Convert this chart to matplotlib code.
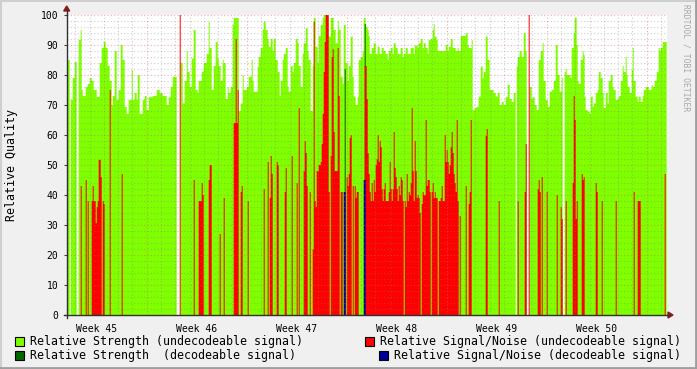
import numpy as np
import matplotlib
matplotlib.use("Agg")
import matplotlib.pyplot as plt
from matplotlib.patches import Rectangle, Polygon
from matplotlib.lines import Line2D

# --- DATA (one sample = 1.68 h, 600 samples = 6 weeks) ---
SAMPLE_HOURS = 1.68
N_SAMPLES = 600
FIRST_WEEK_HOUR = 134.4      # start of week 46 inside the graph
week_labels = ["Week 45", "Week 46", "Week 47", "Week 48", "Week 49", "Week 50"]

nan = float("nan")

# Relative strength (undecodeable), run starts (sample) and values, nan = no data
strength_start = [0, 3, 4, 6, 8, 10, 12, 14, 15, 16, 19, 21, 23, 25, 27, 30, 33, 35, 37, 39, 41, 43, 45, 46, 48,
                  50, 52, 54, 56, 58, 60, 62, 65, 66, 68, 70, 71, 73, 76, 78, 80, 82, 86, 90, 93, 96, 100, 102,
                  104, 106, 110, 114, 116, 118, 120, 121, 123, 125, 127, 129, 131, 132, 135, 137, 140, 142, 143,
                  145, 147, 149, 151, 152, 154, 156, 157, 159, 161, 162, 164, 166, 167, 172, 174, 176, 177, 180,
                  182, 185, 186, 187, 191, 192, 194, 196, 197, 199, 201, 202, 204, 206, 207, 209, 211, 213, 214,
                  216, 217, 219, 221, 222, 224, 226, 227, 229, 231, 232, 234, 236, 237, 239, 241, 242, 244, 246,
                  247, 249, 251, 252, 254, 256, 257, 262, 264, 267, 269, 271, 272, 274, 276, 277, 279, 281, 282,
                  284, 286, 287, 289, 291, 292, 294, 296, 297, 299, 301, 302, 303, 305, 307, 309, 311, 313, 315,
                  317, 319, 321, 322, 324, 326, 327, 329, 331, 334, 336, 337, 339, 341, 344, 347, 348, 351, 352,
                  354, 356, 357, 359, 361, 362, 364, 366, 367, 368, 370, 371, 374, 379, 381, 382, 384, 386, 389,
                  391, 392, 394, 397, 399, 401, 402, 405, 406, 408, 410, 412, 414, 416, 417, 419, 421, 423, 427,
                  429, 431, 433, 435, 437, 439, 441, 443, 445, 447, 449, 450, 451, 453, 455, 457, 459, 460, 463,
                  465, 466, 468, 470, 472, 474, 476, 477, 479, 481, 483, 485, 487, 489, 491, 493, 495, 496, 498,
                  499, 500, 504, 505, 507, 508, 510, 511, 512, 514, 516, 517, 518, 519, 521, 523, 524, 526, 527,
                  529, 531, 532, 534, 536, 537, 539, 541, 542, 544, 546, 547, 549, 551, 552, 554, 556, 557, 559,
                  560, 561, 563, 565, 566, 567, 569, 571, 572, 574, 576, 577, 579, 582, 585, 586, 588, 590, 592,
                  593, 594, 596]
strength_value = [85, nan, 71.7, 79, 84.3, nan, 91.7, 95, 75, 73, 76, 77, 79, 78, 75, 72.7, 84, 89, 91, 89, 83, 78,
                  70, 73, 88, 71.7, 75, 90, 85, 69.4, 67, 71.7, 81.7, 71.7, 74, 71.7, 80, 67, 71.7, 73, 68.3,
                  72.6, 73, 75, 74, 73, 70, 72.6, 76, 79.4, nan, 84, 70.5, 78, 88, 81, 76, 85.5, 95, 75, 74, 78,
                  81, 84, 87, 97.8, 89, 75, 83, 91, 85.5, 83, 78, 85, 84, 72, 76, 74, 76, 96.7, 99, 68, 70.5, 80,
                  75, 76, 79.4, 85, 78, 74.4, 82.8, 86, 89, 95, 97.8, 95, 92, 89.4, 92, 88, 92, 85, 81, 73, 78,
                  85, 87, 89, 76, 74.4, 83, 81, 84, 92, 90.6, 83, 76, 87, 90.6, 95.6, 88, 85, 68, 82.8, 99, 89.4,
                  84, 93, 96.7, 99, 100, 92.8, 99, 95, 90.6, 98, 95, 79.4, 77, 96.7, 84, 78, 83, 92.8, 79.4, 72.8,
                  70, 72.8, 85, 86, 88, 99, 96, 95, 93, 87, 89, 90.6, 87, 89.4, 87, 89, 88, 87, 85, 88, 89, 87,
                  90.6, 89, 87, 89, 86, 87, 89, 87, 89, 87, 89.8, 89, 90.6, 92, 89, 90.6, 89, 87, 91.7, 92, 95,
                  97, 92.8, 91.7, 88, 88, 90, 88, 89.4, 92, 89, 88, 89, 88, 93, 93, 93.9, 90, 89, 91.7, 68.3, 69,
                  69.4, 72.8, 82.8, 79, 81, 92.8, 85, 75, 74, 72.8, 74, 70, 71, 70, 72.6, 76.7, 72, 71, 74, nan,
                  82.8, 86, 88, 86, 93.9, 88, nan, 76, 72, 72.6, 70, 68.3, 85, 88, 90.6, 78, 71.7, 69.4, 74.4, 75,
                  78, 90, 80, 74.4, 79, nan, 81, 82, 80, 79, 89, 93.9, 99, 90, 78, 77, 85, 88, 86.7, 72.8, 68.3,
                  67.8, 67, 72.8, 69.4, 70.5, 74, 75, 81, 79, 74, 69, 74, 70.5, 78, 80, 76, 75, 71.7, 72, 73, 78,
                  83, 81, 86, 80, 76, 74, 81.7, 89, 78, 72.8, 71, 72.8, 71, 73, 75, 76, 75, 76.7, 76, 78, 81, 89,
                  88, 89, 91]

# Relative signal/noise (undecodeable), sample -> value
snr_sample = [14, 19, 21, 25, 26, 27, 28, 29, 30, 31, 32, 33, 34, 36, 37, 43, 55,
              113, 127, 132, 133, 134, 135, 136, 142, 143, 144, 153, 157, 167, 168, 169, 170, 171, 174, 175, 181,
              197, 201, 203, 204, 205, 210, 211, 218, 219, 225, 230, 232, 237, 238, 239, 240, 243, 246, 247, 248,
              249, 250, 251, 252, 253, 254, 255, 256, 257, 258, 259, 260, 261, 262, 264, 265, 266, 267, 268, 269,
              270, 271, 272, 274, 275, 280, 281, 282, 283, 284, 286, 288, 289, 290, 291,
              298, 299, 300, 301, 302, 303, 304, 305, 306, 307, 308, 309, 310, 311, 312, 313, 314, 315, 316, 317,
              318, 319, 320, 321, 322, 323, 324, 325, 326, 327, 328, 329, 330, 331, 332, 333, 334, 335, 336, 338,
              339, 340, 341, 342, 343, 344, 345, 346, 347, 348, 349, 350, 351, 352, 353, 355, 356, 357, 358, 359,
              360, 361, 362, 363, 365, 366, 367, 368, 369, 370, 372, 373, 374, 375, 376, 377, 378, 379, 380, 381,
              382, 383, 384, 385, 386, 387, 388, 389, 390, 391, 393,
              399, 402, 403, 404, 419, 420, 432, 451, 458, 459, 462, 471, 472, 473, 475, 480, 490, 494, 495,
              499, 506, 507, 508, 509, 510, 515, 516, 517, 529, 530, 535, 549, 567, 571, 572, 573, 598]
snr_value = [43, 45, 38, 38, 43, 38, 38, 30.6, 36, 38, 51.7, 51.7, 46, 38, 37, 75, 47,
             100, 45, 38, 38, 38, 44, 40, 45, 50, 50, 27, 39, 64, 64, 92, 64, 75, 41, 43, 38,
             42, 51, 39, 53, 47, 51, 50, 41, 49, 53, 44, 69, 48, 58, 54, 43, 41, 21.9, 97.8, 38,
             36, 48, 48, 50, 50, 51, 57, 67, 81, 91, 100, 100, 100, 41, 53, 86, 88.6, 61, 48, 48,
             48, 89, 73, 41, 41, 46, 43, 47, 59, 60, 43, 43, 39, 41, 41,
             83, 83, 72, 54, 47, 41, 38, 44, 38, 45, 41, 50, 52, 60, 51, 58, 56, 42, 38, 42,
             44, 38, 38, 38, 41, 51, 42, 38, 42, 61, 49, 46, 42, 38, 43, 40, 46, 45, 38, 38,
             36, 47, 38, 41, 40, 44, 69, 48, 38, 58, 48, 39, 40, 39, 34, 37, 41, 40, 40, 65,
             43, 45, 45, 41, 41, 44, 39, 41, 39, 39, 38, 38, 39, 43, 38, 38, 60, 51, 55, 51,
             47, 50, 56, 61, 54, 47, 44, 41, 65, 38, 33,
             43, 37, 41, 65, 59.7, 62, 38, 38, 41, 57, 100, 42, 45, 41, 46, 41, 40, 36, 32,
             38, 44, 73, 65, 32, 38, 47, 45, 46, 44, 41, 38, 38, 41, 38, 38, 38, 47]

# Decodeable signal
dec_strength_sample = [278, 298]
dec_strength_value = [82, 97]
dec_snr_sample = [277, 278, 297, 298]
dec_snr_value = [41, 41, 45, 45]


def runs_to_series(starts, values, n):
    out = np.full(n, np.nan)
    bounds = list(starts) + [n]
    for a, b, v in zip(bounds[:-1], bounds[1:], values):
        out[a:b] = v
    return out


def sparse_to_series(idx, values, n):
    out = np.zeros(n)
    out[idx] = values
    return out


strength = runs_to_series(strength_start, strength_value, N_SAMPLES)
snr = sparse_to_series(snr_sample, snr_value, N_SAMPLES)
dec_strength = sparse_to_series(dec_strength_sample, dec_strength_value, N_SAMPLES)
dec_snr = sparse_to_series(dec_snr_sample, dec_snr_value, N_SAMPLES)
edges = np.arange(N_SAMPLES + 1) * SAMPLE_HOURS
span = N_SAMPLES * SAMPLE_HOURS

# --- COLOURS ---
C_STR = "#7FFF00"
C_SNR = "#FF0000"
C_DSTR = "#006600"
C_DSNR = "#000099"
MONO = "DejaVu Sans Mono"

W, H = 697, 369
fig = plt.figure(figsize=(W / 100, H / 100), dpi=100, facecolor="#F0F0F0")
L, T, R, B = 66.7, 15, 666.7, 315
ax = fig.add_axes([L / W, 1 - B / H, (R - L) / W, (B - T) / H])
ax.set_facecolor("white")

ax.stairs(np.nan_to_num(strength), edges, fill=True, color=C_STR, lw=0, zorder=1)
ax.stairs(dec_strength, edges, fill=True, color=C_DSTR, lw=0, zorder=1.1)
ax.stairs(snr, edges, fill=True, color=C_SNR, lw=0, zorder=1.2)
ax.stairs(dec_snr, edges, fill=True, color=C_DSNR, lw=0, zorder=1.3)

ax.set_xlim(0, span)
ax.set_ylim(0, 100)

# grid: days / weeks on x, 2 / 10 on y
days = np.arange(FIRST_WEEK_HOUR - 5 * 24, span, 24)
weeks = np.arange(FIRST_WEEK_HOUR, span, 168)
minor_style = dict(color="#808080", alpha=0.38, lw=0.8, ls=(0, (1, 2)), zorder=3)
major_style = dict(color="#E06060", alpha=0.5, lw=0.8, ls=(0, (1, 2)), zorder=3)
for d in days:
    if np.min(np.abs(weeks - d)) > 1:
        ax.axvline(d, **minor_style)
for wk in weeks:
    ax.axvline(wk, **major_style)
for yv in range(2, 101, 2):
    ax.axhline(yv, **(major_style if yv % 10 == 0 else minor_style))

ax.set_yticks(range(0, 101, 10))
ax.set_yticklabels([str(v) for v in range(0, 101, 10)], fontfamily=MONO, fontsize=7)
ax.set_xticks([])
ax.tick_params(axis="y", length=2, width=0.8, color="#404040", pad=4)
for s in ax.spines.values():
    s.set_visible(False)

for i, lab in enumerate(week_labels):
    ax.text(FIRST_WEEK_HOUR - 84 + 168 * i, -3, lab, ha="center", va="top",
            fontfamily=MONO, fontsize=7)

# axes lines with arrows
fx = lambda x: x / W
fy = lambda y: 1 - y / H
fig.add_artist(Line2D([fx(L), fx(L)], [fy(B + 3), fy(10)], color="#303030", lw=1))
fig.add_artist(Line2D([fx(L - 3), fx(669)], [fy(B), fy(B)], color="#303030", lw=1))
fig.add_artist(Polygon([[fx(L - 3), fy(11)], [fx(L + 3), fy(11)], [fx(L), fy(6)]],
                       closed=True, color="#8B1A1A", transform=fig.transFigure))
fig.add_artist(Polygon([[fx(668), fy(B - 3)], [fx(668), fy(B + 3)], [fx(673), fy(B)]],
                       closed=True, color="#8B1A1A", transform=fig.transFigure))

fig.text(fx(12), fy((T + B) / 2), "Relative Quality", rotation=90, ha="center", va="center",
         fontfamily=MONO, fontsize=8.4)
fig.text(fx(686), fy(4), "RRDTOOL / TOBI OETIKER", rotation=270, ha="center", va="top",
         fontfamily=MONO, fontsize=5.8, color="#A8A8A8")

# legend
legend = [
    (15, 341, C_STR, "Relative Strength (undecodeable signal)"),
    (15, 355, C_DSTR, "Relative Strength  (decodeable signal)"),
    (365, 341, C_SNR, "Relative Signal/Noise (undecodeable signal)"),
    (379, 355, C_DSNR, "Relative Signal/Noise (decodeable signal)"),
]
for x0, yc, col, lab in legend:
    fig.add_artist(Rectangle((fx(x0), fy(yc + 4.5)), 9 / W, 9 / H, facecolor=col,
                             edgecolor="black", lw=0.8, transform=fig.transFigure))
    fig.text(fx(x0 + 15), fy(yc), lab, ha="left", va="center", fontfamily=MONO, fontsize=8.4)

# 3d frame
fig.add_artist(Line2D([0, 1], [fy(0.5), fy(0.5)], color="#CFCFCF", lw=1.5))
fig.add_artist(Line2D([fx(0.5), fx(0.5)], [0, 1], color="#CFCFCF", lw=1.5))
fig.add_artist(Line2D([0, 1], [fy(H - 1), fy(H - 1)], color="#9E9E9E", lw=2))
fig.add_artist(Line2D([fx(W - 1), fx(W - 1)], [0, 1], color="#9E9E9E", lw=2))

fig.savefig("out.png", dpi=100, facecolor=fig.get_facecolor())
